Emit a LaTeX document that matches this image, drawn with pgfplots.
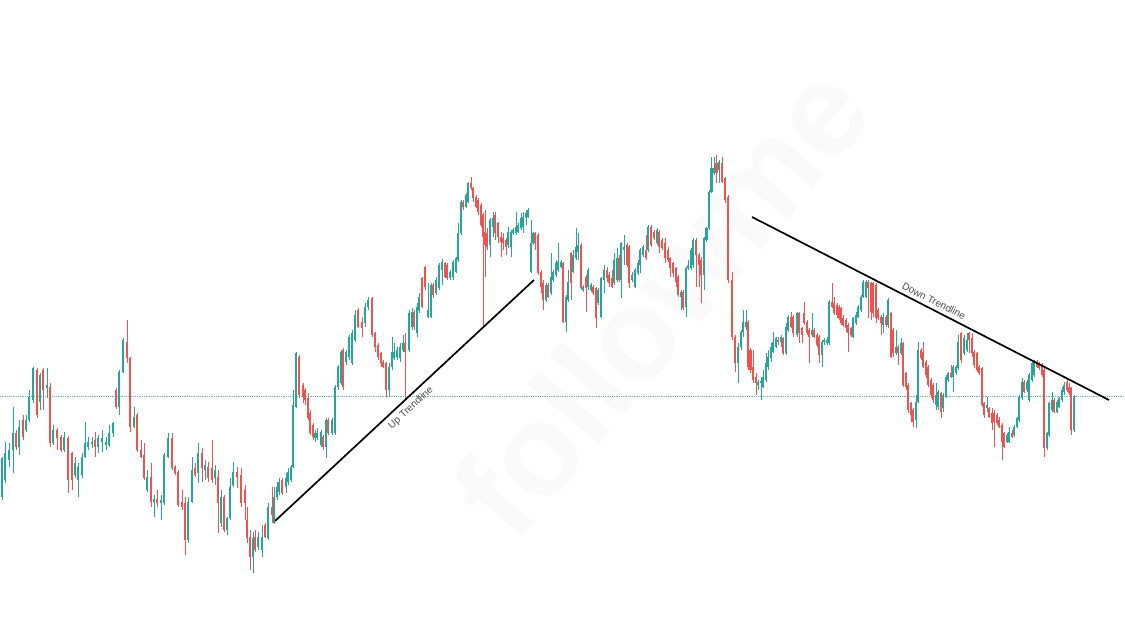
\documentclass[border=0pt]{standalone}
\usepackage{pgfplots}
\usepackage{pgfplotstable}
\pgfplotsset{compat=1.18}
\usepackage{fontspec}
\setmainfont{Liberation Sans}
\definecolor{cgreen}{HTML}{26A69A}
\definecolor{cred}{HTML}{EF5350}
\definecolor{dotc}{HTML}{6FB8B2}

\pgfplotstableread{
x o h l c
2 497 457 500 458
5 480 442 483 453
9 460 443 467 450
13 450 407 473 433
19 447 420 455 427
26 430 415 432 420
29 420 390 422 397
33 400 367 403 368
40 402 373 410 375
47 388 368 398 385
53 443 425 445 430
64 450 432 452 437
75 475 457 478 463
78 480 463 497 467
82 475 453 478 457
85 457 422 458 443
88 447 437 450 442
92 444 437 448 442
98 447 435 453 438
102 442 430 452 438
106 445 437 450 442
109 445 425 447 433
113 433 422 437 423
119 407 370 415 372
123 372 338 373 340
134 427 407 428 417
147 490 470 492 477
154 502 495 517 499
161 503 495 520 500
164 503 453 505 455
168 457 433 458 438
188 540 497 543 502
192 502 457 503 470
198 473 443 483 453
205 470 460 480 465
215 478 465 485 470
221 523 490 527 497
227 530 517 535 518
230 518 478 520 487
233 485 462 487 472
253 557 532 573 538
258 547 532 550 537
262 550 525 557 537
268 538 503 540 507
274 523 487 524 497
277 497 482 500 487
279 492 478 495 482
286 487 473 493 478
288 482 468 485 472
291 480 465 482 467
293 467 390 468 405
296 407 352 408 353
315 438 430 442 433
317 438 428 440 433
321 445 430 447 432
326 447 418 458 420
332 433 418 435 420
335 433 385 435 387
338 387 365 390 367
341 383 350 385 352
346 362 350 365 352
349 357 335 360 337
352 363 330 365 333
355 340 310 342 315
365 323 303 327 307
368 307 297 310 300
389 390 363 397 367
392 367 337 370 352
394 358 343 360 352
397 357 347 360 350
400 358 343 362 347
403 350 335 352 343
409 350 310 352 313
412 327 308 330 312
417 333 303 337 307
419 310 293 313 297
428 317 283 318 310
431 317 283 318 285
436 293 277 295 280
439 288 263 290 265
442 270 259 285 262
450 278 270 280 272
453 277 260 280 262
456 272 257 273 258
458 260 223 262 233
461 233 200 235 202
466 207 193 208 195
468 202 182 203 183
490 245 218 257 220
493 227 212 237 218
508 245 227 248 232
511 247 230 257 232
513 233 228 235 230
516 233 212 235 227
518 232 223 233 225
521 228 213 230 218
523 227 212 233 217
526 218 210 225 213
528 217 208 218 210
531 272 220 273 243
533 243 232 245 233
546 300 283 302 285
551 293 253 295 277
553 280 270 282 272
556 275 260 277 263
558 270 243 272 262
561 267 260 268 262
566 322 295 332 297
568 300 270 302 282
573 272 250 273 255
576 258 228 260 247
578 252 233 260 245
583 290 285 292 287
588 287 268 290 270
591 290 283 292 285
598 303 288 305 290
601 317 277 318 278
604 280 265 293 270
614 283 253 285 260
617 280 248 282 258
621 280 242 298 243
624 250 235 265 247
632 280 272 282 275
635 287 268 288 270
638 273 260 275 263
640 265 248 273 250
643 255 245 257 247
648 250 225 252 227
657 243 228 245 230
681 297 290 310 292
686 307 267 317 268
688 268 260 270 265
691 268 248 270 250
693 265 238 268 240
704 275 237 290 238
706.5 240 227 242 228
709 228 190 230 192
711.5 192 157 193 168
714 173 157 175 168
719 170 160 183 162
738 363 343 383 347
741 347 330 350 332
743 332 310 337 322
746 327 310 330 322
758 385 380 390 382
761 383 377 400 381
763 387 370 388 377
766 380 353 382 363
768 367 350 370 357
771 358 343 362 347
773 352 332 353 342
776 347 337 348 338
781 342 335 347 337
786 353 323 355 327
788 330 315 332 317
797 335 312 337 313
812 335 313 337 330
822 355 340 367 342
824 342 338 345 340
827 343 337 345 340
829 343 300 345 302
853 337 317 338 318
856 323 312 325 315
858 317 305 318 307
861 310 295 312 297
863 297 280 298 282
866 297 280 298 282
883 325 313 333 317
888 325 298 328 300
896 353 330 355 347
901 353 338 355 343
916 420 395 428 402
918 402 342 403 350
936 405 383 410 395
938 407 390 410 392
943 408 393 412 395
946 397 375 398 377
948 380 372 382 373
953 377 365 392 367
956 373 365 375 367
958 368 335 370 342
964 353 335 355 338
967 350 333 352 340
987 408 397 412 405
1007 442 433 443 435
1009 442 427 443 432
1014 435 425 437 427
1017 427 417 428 418
1019 420 395 422 397
1022 398 378 400 382
1027 390 380 392 382
1029 400 373 402 375
1032 380 362 382 363
1034 375 360 377 362
1047 448 432 450 433
1049 435 402 437 403
1052 410 392 412 400
1057 412 400 413 402
1059 407 397 408 398
1062 400 387 402 390
1064 392 382 395 385
1074 430 395 432 397
}\greendata

\pgfplotstableread{
x o h l c
16 433 430 450 447
23 420 415 440 437
37 370 368 418 415
43 370 368 410 390
50 387 383 447 443
57 430 428 450 438
61 437 435 452 450
68 438 436 493 480
72 453 452 490 480
95 440 432 457 447
116 390 388 409 407
127 342 320 363 358
130 358 357 432 427
137 415 413 452 450
141 450 440 458 457
144 455 443 480 478
151 477 463 507 502
157 499 490 507 503
172 438 433 470 468
175 467 465 475 473
178 472 470 507 505
182 502 490 510 507
185 503 497 555 540
195 468 463 477 475
202 453 448 482 468
208 467 462 482 478
212 468 440 483 480
218 477 470 533 503
224 497 495 532 530
237 472 467 488 477
241 475 468 507 503
245 490 485 520 503
247 520 507 543 538
250 537 530 570 557
255 537 530 552 550
265 525 523 538 537
272 507 487 523 515
282 480 478 495 493
299 357 355 398 395
303 385 383 403 397
305 390 388 405 400
308 398 393 420 418
310 413 410 435 433
313 425 423 440 437
323 437 435 450 447
328 420 418 435 433
343 350 348 390 387
358 310 308 328 327
362 322 317 337 328
372 298 297 337 335
375 333 332 352 347
378 345 343 360 357
381 353 352 367 363
383 362 360 368 367
386 363 362 397 390
405 343 333 400 352
414 312 310 330 327
422 278 277 308 307
425 267 266 290 287
433 285 283 298 295
445 263 262 278 277
447 265 263 280 278
463 202 200 210 207
471 183 177 190 188
473 188 187 202 198
476 197 195 208 207
478 200 198 215 212
481 205 203 227 225
483 215 213 327 237
485 232 210 277 245
487 233 228 250 247
495 215 212 240 233
498 223 222 243 237
501 237 232 257 242
503 238 233 250 243
506 240 238 255 247
535 233 232 250 243
538 235 233 275 273
541 272 270 293 287
543 283 280 310 300
548 285 283 298 297
563 263 262 323 322
571 253 252 300 283
581 245 243 290 288
586 277 275 312 288
593 287 285 295 293
596 288 287 328 318
607 270 267 282 278
609 275 272 287 283
612 278 270 288 287
619 258 255 282 280
627 245 243 267 265
629 247 245 288 283
646 250 235 260 258
651 227 225 247 245
654 232 230 240 238
659 232 230 253 247
662 240 238 250 248
665 243 238 263 258
668 250 247 262 260
670 258 257 277 268
673 263 262 277 273
676 268 267 287 282
678 277 275 297 295
683 292 290 310 308
696 240 238 287 255
699 255 253 287 265
701 260 257 303 275
716.5 163 155 183 173
722 163 157 183 182
725 178 177 203 200
728 197 195 283 280
732 280 272 340 337
735 337 335 372 363
748 322 320 370 367
750.5 350 348 373 370
753 367 350 383 380
756 377 373 395 383
778 340 337 345 342
783 338 337 355 353
791 317 312 328 327
793 317 315 337 333
799 313 312 343 333
802 328 327 343 335
804 313 302 325 323
807 322 320 335 333
809 330 328 363 337
814 330 328 338 337
817 335 333 347 345
819 337 335 363 355
832 302 283 308 307
834 303 297 315 313
837 305 303 318 315
839 307 305 320 318
841 308 307 325 323
843 318 315 327 325
846 320 318 332 328
848 325 323 352 333
851 328 327 337 335
868 282 280 318 288
871 283 282 320 312
873 283 282 317 313
876 285 283 323 318
878 310 308 320 318
881 317 315 335 323
886 317 315 327 325
891 313 312 358 357
893 330 328 357 353
898 347 345 365 353
903 343 342 387 385
906 373 372 390 387
908 385 383 413 410
911 403 402 422 415
913 410 408 427 422
921 350 348 360 358
923 352 342 368 367
926 362 360 378 375
928 367 365 387 385
931 380 378 398 395
933 385 383 403 400
941 393 392 418 412
951 373 365 378 377
961 333 332 363 360
969 333 332 353 340
972 338 333 357 353
974 352 350 368 365
977 353 352 372 370
979 367 365 375 373
982 368 367 407 405
984 403 402 418 415
989 408 407 418 417
992 413 408 430 423
994 413 410 447 422
997 415 413 425 423
999 420 417 428 427
1002 425 423 460 442
1004 433 432 448 447
1012 433 430 438 437
1024 382 380 393 392
1037 362 360 368 367
1039 363 362 370 368
1042 365 363 377 375
1044 370 367 457 448
1054 400 398 413 412
1067 382 380 392 390
1069 387 383 395 393
1071 388 387 435 430
}\reddata

\begin{document}
\begin{tikzpicture}
\begin{axis}[name=ax, width=1125pt, height=633pt, scale only axis,
  xmin=0, xmax=1125, ymin=0, ymax=633, y dir=reverse,
  axis lines=none, clip=false,
  candle/.style={draw=none, mark=none, forget plot,
    error bars/.cd, y dir=both, y explicit, error mark=none}]
\node[rotate=50, text=black!2, font=\fontsize{130}{130}\selectfont\bfseries] at (axis cs:660,300) {followme};
\addplot[dotc, densely dotted, line width=0.8pt] coordinates {(0,396) (1125,396)};
% wicks
\addplot[candle, error bar style={draw=cgreen, line width=0.9pt}]
  table[x=x, y expr={(\thisrow{h}+\thisrow{l})/2}, y error expr={(\thisrow{l}-\thisrow{h})/2}] {\greendata};
\addplot[candle, error bar style={draw=cred, line width=0.9pt}]
  table[x=x, y expr={(\thisrow{h}+\thisrow{l})/2}, y error expr={(\thisrow{l}-\thisrow{h})/2}] {\reddata};
% bodies
\addplot[candle, error bar style={draw=cgreen, line width=2.6pt, line cap=butt}]
  table[x=x, y expr={(\thisrow{o}+\thisrow{c})/2}, y error expr={max(abs(\thisrow{o}-\thisrow{c})/2,0.7)}] {\greendata};
\addplot[candle, error bar style={draw=cred, line width=2.6pt, line cap=butt}]
  table[x=x, y expr={(\thisrow{o}+\thisrow{c})/2}, y error expr={max(abs(\thisrow{o}-\thisrow{c})/2,0.7)}] {\reddata};
% trendlines
\addplot[black, line width=1.7pt] coordinates {(275,521) (534,280)};
\addplot[black, line width=1.7pt] coordinates {(752,217) (1109,400)};
\node[rotate=43, text=black!70, font=\fontsize{10}{12}\selectfont] at (axis cs:411,408) {Up Trendline};
\node[rotate=-27, text=black!70, font=\fontsize{10}{12}\selectfont] at (axis cs:934,301) {Down Trendline};
\end{axis}
\pgfresetboundingbox
\path (ax.south west) rectangle (ax.north east);
\end{tikzpicture}
\end{document}
